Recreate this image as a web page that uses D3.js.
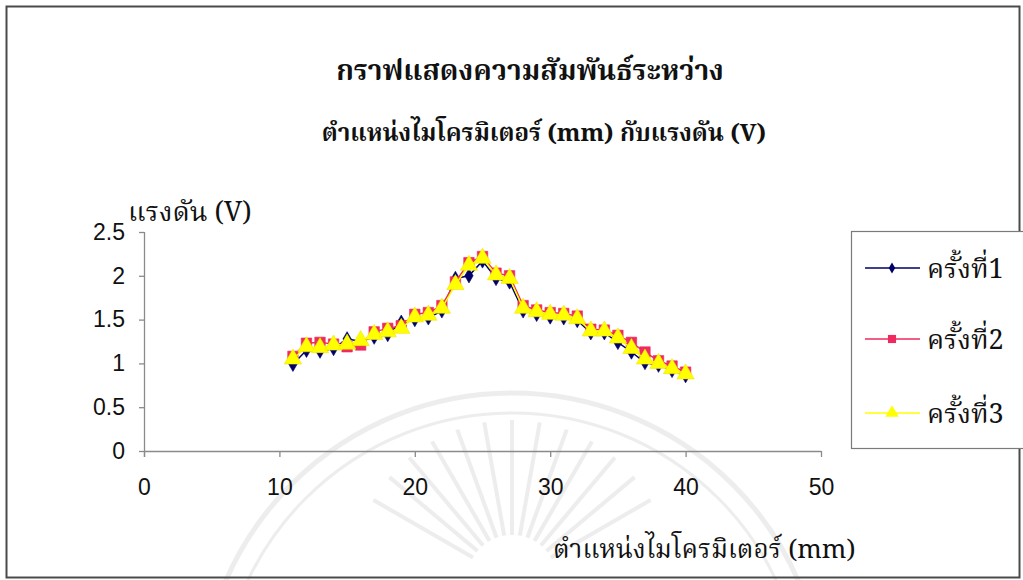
<!DOCTYPE html>
<html>
<head>
<meta charset="utf-8">
<script src="https://cdn.jsdelivr.net/npm/d3@7"></script>
<style>
  html, body { margin: 0; padding: 0; background: #fff; }
  svg { display: block; }
</style>
</head>
<body>
<svg id="chart" width="1023" height="580"></svg>
<script>
// Micrometer position (mm) against measured voltage (V), three runs
const positions = [11, 12, 13, 14, 15, 16, 17, 18, 19, 20, 21, 22, 23, 24, 25,
                   26, 27, 28, 29, 30, 31, 32, 33, 34, 35, 36, 37, 38, 39, 40];
const run1 = [0.99, 1.15, 1.14, 1.17, 1.28, 1.25, 1.30, 1.33, 1.47, 1.50, 1.52, 1.60, 1.97, 2.00, 2.17,
              1.97, 1.93, 1.60, 1.56, 1.53, 1.52, 1.49, 1.35, 1.35, 1.24, 1.13, 1.01, 0.98, 0.92, 0.86];
const run2 = [1.08, 1.23, 1.24, 1.22, 1.19, 1.21, 1.36, 1.40, 1.43, 1.56, 1.58, 1.66, 1.93, 2.15, 2.22,
              2.03, 2.00, 1.66, 1.61, 1.58, 1.57, 1.54, 1.39, 1.38, 1.32, 1.24, 1.13, 1.03, 0.97, 0.90];
const run3 = [1.05, 1.19, 1.18, 1.21, 1.22, 1.26, 1.33, 1.36, 1.40, 1.53, 1.55, 1.63, 1.90, 2.12, 2.20,
              2.01, 1.97, 1.63, 1.59, 1.56, 1.55, 1.51, 1.37, 1.37, 1.29, 1.17, 1.05, 1.00, 0.94, 0.88];
const seriesNames = ["ครั้งที่1", "ครั้งที่2", "ครั้งที่3"];
const xTicks = [0, 10, 20, 30, 40, 50];
const yTicks = [0, 0.5, 1, 1.5, 2, 2.5];

const titleLines = ["กราฟแสดงความสัมพันธ์ระหว่าง", "ตำแหน่งไมโครมิเตอร์ (mm) กับแรงดัน (V)"];
const yTitle = "แรงดัน (V)";
const xTitle = "ตำแหน่งไมโครมิเตอร์ (mm)";

const thaiFont = "'Noto Serif Thai', 'Noto Sans Thai', 'TH Sarabun New', 'Loma', serif";
const numFont = "'Liberation Sans', Arial, sans-serif";

const svg = d3.select("#chart");

// Faint seal in the background
const seal = svg.append("g").attr("fill", "none").attr("stroke", "#e0e0e0").attr("opacity", 0.55);
const cx = 512, cy = 705;
seal.append("circle").attr("cx", cx).attr("cy", cy).attr("r", 312).attr("stroke-width", 5);
seal.append("circle").attr("cx", cx).attr("cy", cy).attr("r", 292).attr("stroke-width", 3);
d3.range(-60, 61, 10).forEach(a => {
  const r = a * Math.PI / 180;
  const ox = 512, oy = 580;
  seal.append("line")
    .attr("x1", ox + Math.sin(r) * 45).attr("y1", oy - Math.cos(r) * 45)
    .attr("x2", ox + Math.sin(r) * 160).attr("y2", oy - Math.cos(r) * 160)
    .attr("stroke-width", 4);
});

// Outer frame
svg.append("rect")
  .attr("x", 6.5).attr("y", 6.5).attr("width", 1013).attr("height", 571)
  .attr("fill", "none").attr("stroke", "#4a4a4a").attr("stroke-width", 2);

const x = d3.scaleLinear().domain([0, 50]).range([144, 821]);
const y = d3.scaleLinear().domain([0, 2.5]).range([451, 232]);

// Title
svg.selectAll("text.title").data(titleLines).join("text")
  .attr("class", "title")
  .attr("x", (d, i) => i === 0 ? 530 : 544)
  .attr("y", (d, i) => i === 0 ? 80 : 141)
  .attr("text-anchor", "middle")
  .attr("font-family", thaiFont)
  .attr("font-weight", "bold")
  .attr("font-size", (d, i) => i === 0 ? 28 : 24)
  .attr("fill", "#111")
  .text(d => d);

// Axes
const xAxis = svg.append("g")
  .attr("transform", `translate(0,${y(0)})`)
  .call(d3.axisBottom(x).tickValues(xTicks).tickSize(6).tickPadding(22).tickFormat(d3.format("d")));
const yAxis = svg.append("g")
  .attr("transform", `translate(${x(0)},0)`)
  .call(d3.axisLeft(y).tickValues(yTicks).tickSize(5).tickPadding(14).tickFormat(d => String(d)));

[xAxis, yAxis].forEach(g => {
  g.select(".domain").attr("stroke", "#8a8a8a").attr("stroke-width", 1.3);
  g.selectAll(".tick line").attr("stroke", "#8a8a8a").attr("stroke-width", 1.3);
  g.selectAll(".tick text")
    .attr("font-family", numFont)
    .attr("font-size", 23)
    .attr("fill", "#111");
});
xAxis.select(".domain").attr("d", `M${x(0)},0.5H${x(50)}`);
yAxis.select(".domain").attr("d", `M0.5,${y(2.5)}V${y(0) + 6}`);

// Axis titles
svg.append("text")
  .attr("x", 128).attr("y", 221)
  .attr("font-family", thaiFont).attr("font-size", 27).attr("fill", "#111")
  .text(yTitle);
svg.append("text")
  .attr("x", 553).attr("y", 558)
  .attr("font-family", thaiFont).attr("font-size", 26).attr("fill", "#111")
  .text(xTitle);

// Series
const series = [
  { name: seriesNames[0], values: run1, color: "#000066", marker: d3.symbolDiamond, size: 60 },
  { name: seriesNames[1], values: run2, color: "#ee2a5e", marker: d3.symbolSquare, size: 110 },
  { name: seriesNames[2], values: run3, color: "#ffff00", marker: d3.symbolTriangle, size: 130 }
];

const line = d3.line().x(d => x(d[0])).y(d => y(d[1]));

series.forEach(s => {
  const pts = positions.map((p, i) => [p, s.values[i]]);
  const g = svg.append("g");
  g.append("path")
    .attr("d", line(pts))
    .attr("fill", "none")
    .attr("stroke", s.color)
    .attr("stroke-width", 1.5);
  g.selectAll("path.m").data(pts).join("path")
    .attr("class", "m")
    .attr("transform", d => `translate(${x(d[0])},${y(d[1])})`)
    .attr("d", d3.symbol().type(s.marker).size(s.size))
    .attr("fill", s.color)
    .attr("stroke", s.color === "#ffff00" ? "#f2e600" : s.color)
    .attr("stroke-width", 0.6);
});

// Legend
const legend = svg.append("g");
legend.append("rect")
  .attr("x", 851.5).attr("y", 231.5).attr("width", 175).attr("height", 217)
  .attr("fill", "#fff").attr("stroke", "#7a7a7a").attr("stroke-width", 1.2);

const legendRows = [268, 339, 413];
series.forEach((s, i) => {
  const ly = legendRows[i];
  legend.append("line")
    .attr("x1", 865).attr("x2", 920).attr("y1", ly).attr("y2", ly)
    .attr("stroke", s.color).attr("stroke-width", 1.5);
  legend.append("path")
    .attr("transform", `translate(892,${ly})`)
    .attr("d", d3.symbol().type(s.marker).size(s.size * 0.6))
    .attr("fill", s.color);
  legend.append("text")
    .attr("x", 927).attr("y", ly + 10)
    .attr("font-family", thaiFont).attr("font-size", 27).attr("fill", "#111")
    .text(s.name);
});
</script>
</body>
</html>
